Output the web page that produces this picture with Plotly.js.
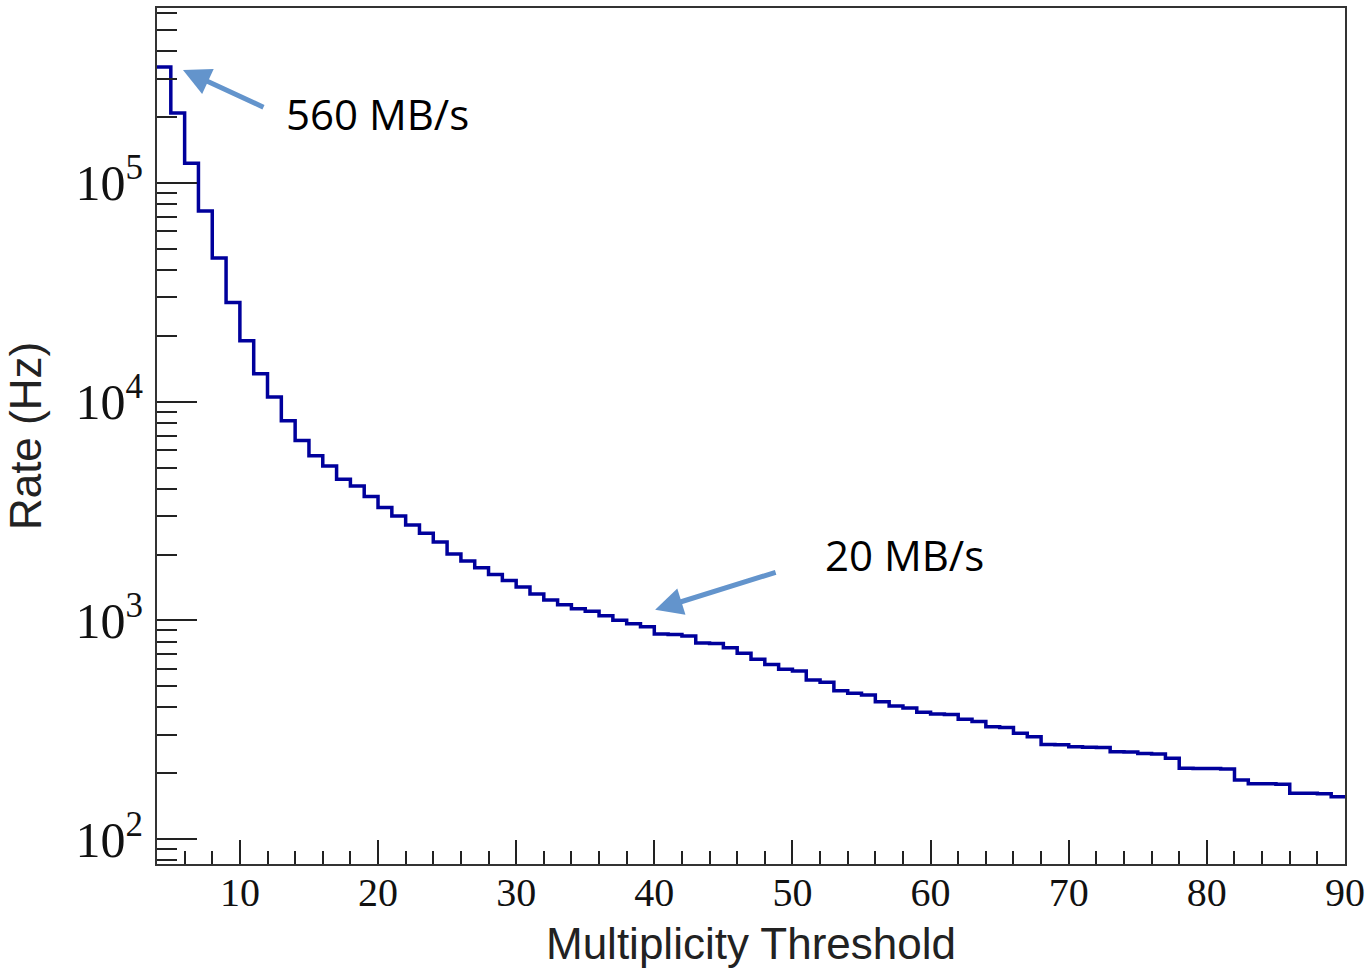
<!DOCTYPE html>
<html>
<head>
<meta charset="utf-8">
<script src="https://cdn.plot.ly/plotly-3.0.1.min.js"></script>
<style>html,body{margin:0;padding:0;background:#fff;}#chart{width:1370px;height:969px;}</style>
</head>
<body>
<div id="chart"></div>
<script>
// Bin lower edges (multiplicity threshold) and rates (Hz)
const binStart = [4,5,6,7,8,9,10,11,12,13,14,15,16,17,18,19,20,21,22,23,24,25,26,27,28,29,30,31,32,33,34,35,36,37,38,39,40,41,42,43,44,45,46,47,48,49,50,51,52,53,54,55,56,57,58,59,60,61,62,63,64,65,66,67,68,69,70,71,72,73,74,75,76,77,78,79,80,81,82,83,84,85,86,87,88,89];
const rateHz = [339000,209000,123000,74500,45400,28400,19000,13400,10500,8190,6640,5660,5080,4420,4120,3680,3280,3000,2730,2500,2280,2010,1870,1740,1620,1520,1420,1320,1240,1180,1130,1100,1050,1000,964,936,866,862,849,788,784,750,707,664,628,597,587,534,521,477,464,456,425,406,397,380,373,371,353,345,326,324,305,294,271,270,264,263,262,251,250,246,245,234,211,210,210,209,186,179,179,178,162,162,161,156];
const xLast = 90;
const xTicks = [10,20,30,40,50,60,70,80,90];
const annLabels = ["560 MB/s", "20 MB/s"];

const xs = binStart.concat([xLast]);
const ys = rateHz.concat([rateHz[rateHz.length-1]]);

const trace = {
  x: xs, y: ys, type: 'scatter', mode: 'lines',
  line: {shape: 'hv', color: '#00009c', width: 3.5},
  hoverinfo: 'x+y'
};

const serif = {family: 'Liberation Serif, Times New Roman, serif', size: 40, color: '#111'};
const sans = {family: 'Liberation Sans, Arial, sans-serif', size: 44, color: '#222'};
const annFont = {family: 'Open Sans, Noto Sans, sans-serif', size: 42, color: '#000'};

const layout = {
  width: 1370, height: 969,
  margin: {l: 157, r: 25, t: 8, b: 105},
  paper_bgcolor: '#fff', plot_bgcolor: '#fff',
  showlegend: false,
  xaxis: {
    range: [4, 90], tickvals: xTicks, ticktext: xTicks.map(String),
    ticks: 'inside', ticklen: 24, tickwidth: 2, tickcolor: '#222',
    minor: {dtick: 2, ticks: 'inside', ticklen: 13, tickwidth: 2, tickcolor: '#222'},
    showline: true, linecolor: '#333', linewidth: 2, mirror: true,
    showgrid: false, zeroline: false,
    tickfont: serif, ticklabelstandoff: -8,
    title: {text: 'Multiplicity Threshold', font: sans, standoff: 14}
  },
  yaxis: {
    type: 'log', range: [1.886, 5.80], dtick: 1, exponentformat: 'power',
    ticks: 'inside', ticklen: 40, tickwidth: 2, tickcolor: '#222',
    minor: {dtick: 'D1', ticks: 'inside', ticklen: 20, tickwidth: 2, tickcolor: '#222'},
    showline: true, linecolor: '#333', linewidth: 2, mirror: true,
    showgrid: false, zeroline: false,
    tickfont: serif, ticklabelstandoff: 4,
    title: {text: 'Rate (Hz)', font: sans, standoff: 20}
  },
  annotations: [
    {x: 5.88, y: 5.517, xref: 'x', yref: 'y', ax: 82, ay: 38, text: '',
     showarrow: true, arrowhead: 2, arrowsize: 1.1, arrowwidth: 5, arrowcolor: '#6394cc'},
    {x: 40.06, y: 3.048, xref: 'x', yref: 'y', ax: 122, ay: -38, text: '',
     showarrow: true, arrowhead: 2, arrowsize: 1.1, arrowwidth: 5, arrowcolor: '#6394cc'},
    {x: 0.186, y: 0.877, xref: 'paper', yref: 'paper', xanchor: 'center', yanchor: 'middle',
     text: annLabels[0], showarrow: false, font: annFont},
    {x: 0.629, y: 0.361, xref: 'paper', yref: 'paper', xanchor: 'center', yanchor: 'middle',
     text: annLabels[1], showarrow: false, font: annFont}
  ]
};

Plotly.newPlot('chart', [trace], layout, {displayModeBar: false, staticPlot: true});
</script>
</body>
</html>
